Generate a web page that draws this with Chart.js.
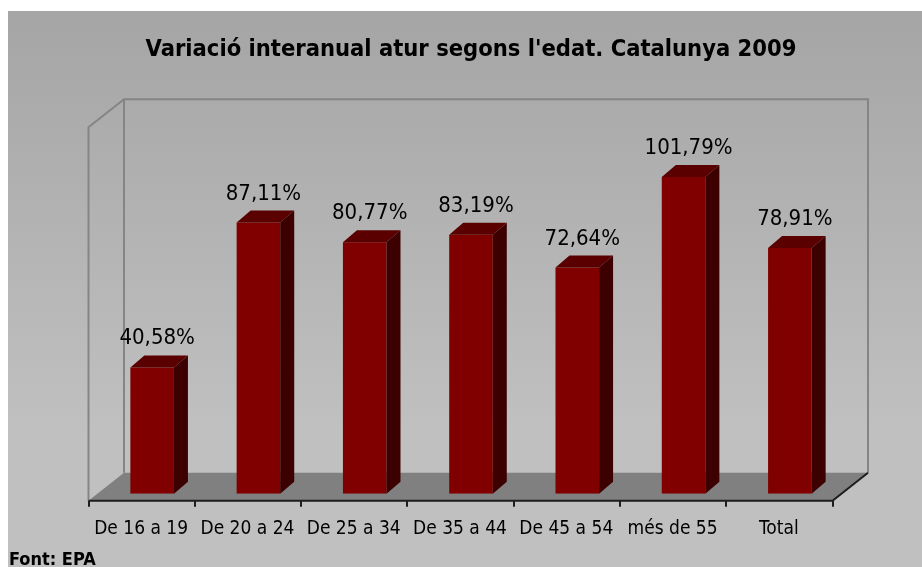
<!DOCTYPE html>
<html>
<head>
<meta charset="utf-8">
<script src="https://cdn.jsdelivr.net/npm/chart.js@4.4.0/dist/chart.umd.min.js"></script>
<style>
  html, body { margin: 0; padding: 0; background: #fff; }
  #wrap { width: 922px; height: 567px; }
</style>
</head>
<body>
<div id="wrap"><canvas id="myChart" width="922" height="567"></canvas></div>
<script>
// dades
const categories = ['De 16 a 19', 'De 20 a 24', 'De 25 a 34', 'De 35 a 44', 'De 45 a 54', 'més de 55', 'Total'];
const variacio = [40.58, 87.11, 80.77, 83.19, 72.64, 101.79, 78.91];
const yMax = 120;

const NARROW = "'DejaVu Sans Condensed', 'Liberation Sans Narrow', sans-serif";

// profunditat 3D (pla de les barres -> pla frontal / pla del fons)
const FRONT = {x: -10.5, y: 7};
const BACK = {x: 25, y: -21};
const BAR_D = {x: 14, y: -12};

function fmt(v) {
    return v.toFixed(2).replace('.', ',') + '%';
}

const fons3d = {
    id: 'fons3d',
    beforeDraw(chart) {
        const ctx = chart.ctx;
        ctx.save();
        ctx.fillStyle = '#ffffff';
        ctx.fillRect(0, 0, chart.width, chart.height);
        const g = ctx.createLinearGradient(0, 11, 0, 567);
        g.addColorStop(0, '#a5a5a5');
        g.addColorStop(0.75, '#c0c0c0');
        g.addColorStop(1, '#c0c0c0');
        ctx.fillStyle = g;
        ctx.fillRect(8, 11, chart.width - 8, chart.height - 11);
        ctx.restore();
    },
    beforeDatasetsDraw(chart) {
        const ctx = chart.ctx;
        const ca = chart.chartArea;
        const fl = ca.left + FRONT.x, fr = ca.right + FRONT.x, fb = ca.bottom + FRONT.y, ft = ca.top + FRONT.y;
        const bl = ca.left + BACK.x, br = ca.right + BACK.x, bb = ca.bottom + BACK.y, bt = ca.top + BACK.y;
        ctx.save();
        // terra
        ctx.fillStyle = '#808080';
        ctx.beginPath();
        ctx.moveTo(fl, fb);
        ctx.lineTo(fr, fb);
        ctx.lineTo(br, bb);
        ctx.lineTo(bl, bb);
        ctx.closePath();
        ctx.fill();
        // parets
        ctx.strokeStyle = '#858585';
        ctx.lineWidth = 2;
        ctx.beginPath();
        ctx.moveTo(fl, fb);
        ctx.lineTo(fl, ft);
        ctx.lineTo(bl, bt);
        ctx.lineTo(br, bt);
        ctx.lineTo(br, bb);
        ctx.moveTo(bl, bt);
        ctx.lineTo(bl, bb);
        ctx.stroke();
        ctx.restore();
    },
    afterDatasetsDraw(chart) {
        const ctx = chart.ctx;
        const ca = chart.chartArea;
        const meta = chart.getDatasetMeta(0);
        ctx.save();
        meta.data.forEach((bar, i) => {
            const p = bar.getProps(['x', 'y', 'width', 'base'], true);
            const l = p.x - p.width / 2, r = p.x + p.width / 2;
            // cara de dalt
            ctx.fillStyle = '#5a0000';
            ctx.beginPath();
            ctx.moveTo(l, p.y);
            ctx.lineTo(l + BAR_D.x, p.y + BAR_D.y);
            ctx.lineTo(r + BAR_D.x, p.y + BAR_D.y);
            ctx.lineTo(r, p.y);
            ctx.closePath();
            ctx.fill();
            // cara lateral
            ctx.fillStyle = '#3c0000';
            ctx.beginPath();
            ctx.moveTo(r, p.y);
            ctx.lineTo(r + BAR_D.x, p.y + BAR_D.y);
            ctx.lineTo(r + BAR_D.x, p.base + BAR_D.y);
            ctx.lineTo(r, p.base);
            ctx.closePath();
            ctx.fill();
            // etiqueta
            ctx.fillStyle = '#000';
            ctx.font = '22px ' + NARROW;
            ctx.textAlign = 'center';
            ctx.textBaseline = 'alphabetic';
            ctx.fillText(fmt(variacio[i]), p.x + 5, p.y - 23);
        });

        // eix X (vora frontal del terra)
        const fl = ca.left + FRONT.x, fr = ca.right + FRONT.x, fb = ca.bottom + FRONT.y;
        const step = (ca.right - ca.left) / categories.length;
        ctx.strokeStyle = '#1e1e1e';
        ctx.lineWidth = 2;
        ctx.beginPath();
        ctx.moveTo(fl, fb);
        ctx.lineTo(fr, fb);
        ctx.lineTo(ca.right + BACK.x, ca.bottom + BACK.y);
        for (let i = 0; i <= categories.length; i++) {
            const x = Math.round(fl + i * step);
            ctx.moveTo(x, fb);
            ctx.lineTo(x, fb + 6);
        }
        ctx.stroke();

        // font
        ctx.fillStyle = '#000';
        ctx.font = 'bold 18px ' + NARROW;
        ctx.textAlign = 'left';
        ctx.textBaseline = 'alphabetic';
        ctx.fillText('Font: EPA', 9, 565);
        ctx.restore();
    }
};

const data = {
    labels: categories,
    datasets: [{
        label: 'Variació',
        data: variacio,
        backgroundColor: '#800000',
        borderWidth: 0,
        categoryPercentage: 1,
        barPercentage: 0.41
    }]
};

const config = {
    type: 'bar',
    data: data,
    options: {
        responsive: false,
        animation: false,
        layout: {padding: {left: 99, right: 79, top: 0, bottom: 2.5}},
        plugins: {
            legend: {display: false},
            tooltip: {enabled: false},
            title: {
                display: true,
                text: "Variació interanual atur segons l'edat. Catalunya 2009",
                color: '#000',
                font: {family: NARROW, size: 23.5, weight: 'bold', lineHeight: 1.2},
                padding: {top: 36, bottom: 56}
            }
        },
        scales: {
            x: {
                grid: {display: false, drawTicks: false},
                border: {display: false},
                ticks: {
                    color: '#000',
                    font: {family: NARROW, size: 19, lineHeight: 1.2},
                    padding: 24,
                    labelOffset: -11,
                    maxRotation: 0,
                    autoSkip: false
                }
            },
            y: {
                display: false,
                min: 0,
                max: yMax
            }
        }
    },
    plugins: [fons3d]
};

let myChart = new Chart(document.getElementById('myChart'), config);
</script>
</body>
</html>
